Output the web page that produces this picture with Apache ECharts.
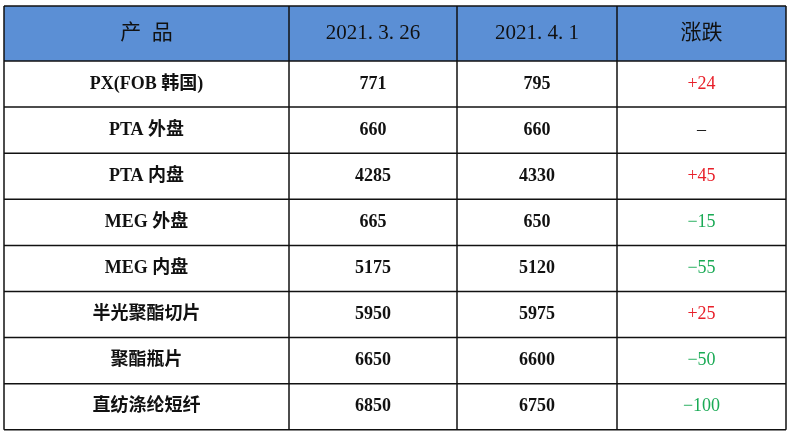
<!DOCTYPE html>
<html>
<head>
<meta charset="UTF-8">
<script src="https://cdn.jsdelivr.net/npm/echarts@6/dist/echarts.min.js"></script>
<style>body{margin:0;background:#fff}#main{width:795px;height:439px}</style>
</head>
<body>
<div id="main"></div>
<script>
var headers = ['产  品', '2021. 3. 26', '2021. 4. 1', '涨跌'];
var products = ['PX(FOB 韩国)', 'PTA 外盘', 'PTA 内盘', 'MEG 外盘', 'MEG 内盘', '半光聚酯切片', '聚酯瓶片', '直纺涤纶短纤'];
var priceOld = [771, 660, 4285, 665, 5175, 5950, 6650, 6850];
var priceNew = [795, 660, 4330, 650, 5120, 5975, 6600, 6750];
var change = ['+24', '–', '+45', '−15', '−55', '+25', '−50', '−100'];

var colX = [4, 289, 457, 617, 786];
var top0 = 6, headH = 55, rowH = 46.1;
var font = '"Liberation Serif","Noto Sans CJK SC",serif';

var els = [];
els.push({type: 'rect', shape: {x: colX[0], y: top0, width: colX[4] - colX[0], height: headH}, style: {fill: '#5B8FD5'}});
function cellText(x0, x1, yc, text, size, color, weight) {
  els.push({type: 'text', x: (x0 + x1) / 2, y: yc, style: {text: text, fontSize: size, fontWeight: weight, fontFamily: font, fill: color, align: 'center', verticalAlign: 'middle'}});
}
headers.forEach(function (h, i) {
  cellText(colX[i], colX[i + 1], top0 + headH / 2, h, 21, '#111', 'normal');
});
products.forEach(function (p, r) {
  var yc = top0 + headH + rowH * (r + 0.5);
  var c = change[r];
  var col = c[0] === '+' ? '#E8202A' : (c === '–' ? '#111' : '#1AAA55');
  cellText(colX[0], colX[1], yc, p, 18, '#111', 'bold');
  cellText(colX[1], colX[2], yc, String(priceOld[r]), 18, '#111', 'bold');
  cellText(colX[2], colX[3], yc, String(priceNew[r]), 18, '#111', 'bold');
  cellText(colX[3], colX[4], yc, c, 18, col, 'normal');
});
var bottom = top0 + headH + rowH * products.length;
for (var r = 0; r <= products.length + 1; r++) {
  var y = r === 0 ? top0 : top0 + headH + rowH * (r - 1);
  els.push({type: 'line', shape: {x1: colX[0], y1: y, x2: colX[4], y2: y}, style: {stroke: '#111', lineWidth: 1.5}});
}
colX.forEach(function (x) {
  els.push({type: 'line', shape: {x1: x, y1: top0, x2: x, y2: bottom}, style: {stroke: '#111', lineWidth: 1.5}});
});

var myChart = echarts.init(document.getElementById('main'));
myChart.setOption({graphic: {elements: els}});
</script>
</body>
</html>
